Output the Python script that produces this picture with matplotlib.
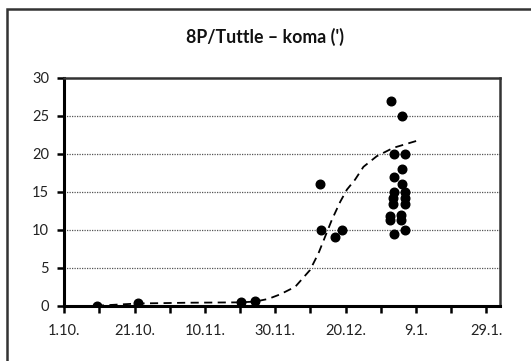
import matplotlib
matplotlib.use('Agg')
import matplotlib.pyplot as plt
from matplotlib.patches import Rectangle

# days counted from 1.10.
obs_days = [9.2, 21.1, 50.2, 54.3,
            72.8, 73.0, 77.0, 78.9,
            93.0, 93.9, 93.9, 93.9, 93.6, 93.6, 92.7, 92.7, 93.9,
            96.0, 96.8, 96.0, 96.0, 96.8, 96.8, 96.8, 95.8, 95.8, 96.8]
obs_coma = [0.0, 0.3, 0.45, 0.6,
            16, 10, 9, 10,
            27, 20, 17, 15, 14.2, 13.4, 11.8, 11.3, 9.4,
            25, 20, 18, 16, 15, 14.2, 13.4, 12, 11.3, 10]

model_days = [9, 21, 35, 50, 54.3, 58, 61.4, 65.7, 69.9, 72.3, 74.2, 76.1,
              78.5, 80.4, 82.7, 85.1, 88.9, 93.6, 100.1]
model_coma = [0.0, 0.3, 0.4, 0.45, 0.55, 0.9, 1.5, 2.5, 4.7, 6.9, 9.1, 11.3,
              13.7, 15.3, 16.6, 18.3, 19.7, 20.8, 21.7]

tick_days = [0, 20, 40, 60, 80, 100, 120]
tick_labels = ['1.10.', '21.10.', '10.11.', '30.11.', '20.12.', '9.1.', '29.1.']
y_ticks = [0, 5, 10, 15, 20, 25, 30]

plt.rcParams['font.family'] = ['Lato', 'DejaVu Sans']

fig = plt.figure(figsize=(5.31, 3.61), dpi=100)
ax = fig.add_axes([0.121, 0.153, 0.821, 0.631])

for v in y_ticks[1:-1]:
    ax.axhline(v, color='#555555', lw=0.9, ls=(0, (1, 1)), zorder=1)

ax.plot(model_days, model_coma, color='black', lw=1.3, ls=(0, (4.5, 3)), zorder=2)
ax.plot(obs_days, obs_coma, 'o', color='black', ms=6.2, zorder=3)

ax.set_xlim(0, 124)
ax.set_ylim(0, 30)
ax.set_xticks(tick_days)
ax.set_xticklabels(tick_labels)
ax.set_xticks([10, 30, 50, 70, 90, 110], minor=True)
ax.set_yticks(y_ticks)

ax.tick_params(axis='both', which='both', direction='out', length=5, width=1.8,
               color='black', labelsize=10.5, labelcolor='#222222', pad=6)
ax.tick_params(axis='x', pad=8)

for s in ['left', 'bottom']:
    ax.spines[s].set_linewidth(2.2)
    ax.spines[s].set_color('black')
for s in ['top', 'right']:
    ax.spines[s].set_linewidth(1.8)
    ax.spines[s].set_color('#333333')

fig.text(0.5, 0.898, "8P/Tuttle \u2013 koma (')", ha='center', va='center',
         fontsize=12.8, fontweight='bold', color='#111111')

fig.patches.append(Rectangle((0.0135, -0.1), 1.2, 1.075, transform=fig.transFigure,
                             fill=False, edgecolor='#333333', lw=1.8))

fig.savefig('out.png', dpi=100)
